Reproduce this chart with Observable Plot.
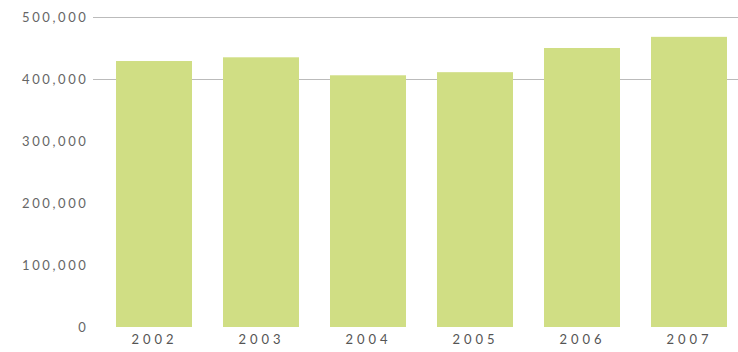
<!DOCTYPE html>
<html>
<head>
<meta charset="utf-8">
<script src="https://cdn.jsdelivr.net/npm/d3@7"></script>
<script src="https://cdn.jsdelivr.net/npm/@observablehq/plot@0.6"></script>
<style>
  html, body { margin: 0; padding: 0; background: #fff; }
  #chart svg { display: block; }
  .yax text { letter-spacing: 2.6px; }
  .xax text { letter-spacing: 4px; }
</style>
</head>
<body>
<div id="chart"></div>
<script>
const years = ["2002", "2003", "2004", "2005", "2006", "2007"];
const values = [429000, 435000, 406000, 411000, 450000, 468000];
const yTicks = [0, 100000, 200000, 300000, 400000, 500000];
const gridLines = [400000, 500000];

const data = years.map((y, i) => ({year: y, value: values[i]}));

const chart = Plot.plot({
  width: 738,
  height: 352,
  marginTop: 17,
  marginBottom: 25,
  marginLeft: 93,
  marginRight: 0,
  style: {fontFamily: "Lato, 'Open Sans', sans-serif", fontSize: "13px", color: "#666", background: "#fff"},
  x: {domain: years, range: [105, 738], paddingInner: 0.29, paddingOuter: 0.1, label: null},
  y: {domain: [0, 500000], label: null},
  marks: [
    Plot.ruleY(gridLines, {stroke: "#aaa", strokeWidth: 1, strokeOpacity: 0.8}),
    Plot.barY(data, {x: "year", y: "value", fill: "#d0de84"}),
    Plot.axisY({ticks: yTicks, tickSize: 0, tickPadding: 5, tickFormat: d3.format(","), label: null, fill: "#666", fontSize: 13, className: "yax"}),
    Plot.axisX({tickSize: 0, tickPadding: 7, label: null, fill: "#555", fontSize: 13, className: "xax"})
  ]
});
document.getElementById("chart").appendChild(chart);
</script>
</body>
</html>
